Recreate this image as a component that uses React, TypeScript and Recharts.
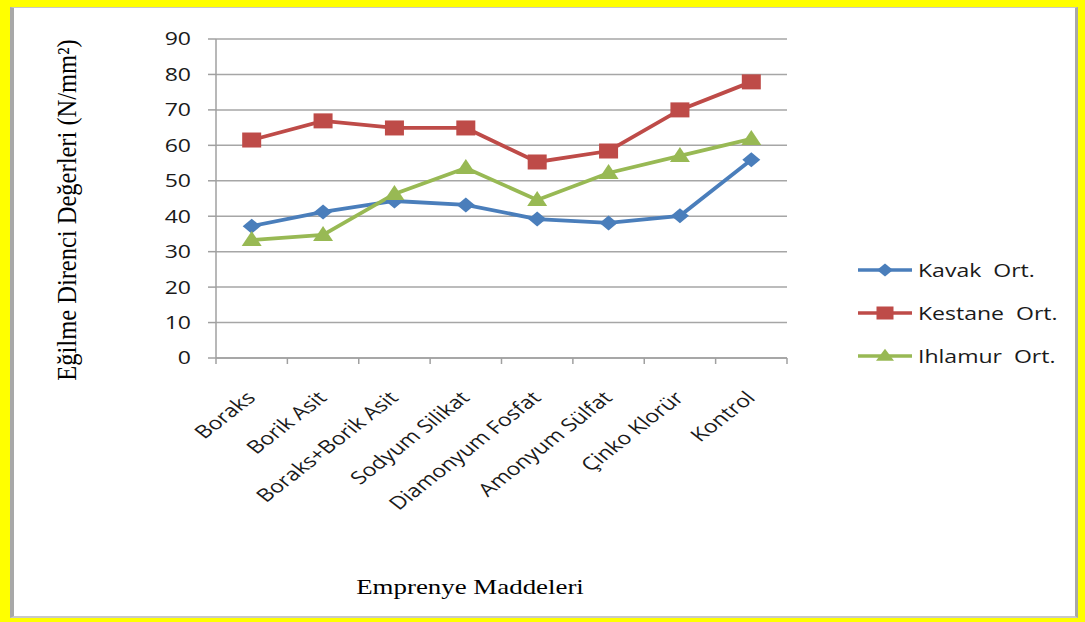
import React from 'react';
import { LineChart, Line, XAxis, YAxis, CartesianGrid } from 'recharts';

const categories = ['Boraks', 'Borik Asit', 'Boraks+Borik Asit', 'Sodyum Silikat', 'Diamonyum Fosfat', 'Amonyum Sülfat', 'Çinko Klorür', 'Kontrol'];
const kavak = [37.2, 41.2, 44.3, 43.2, 39.2, 38.1, 40.1, 55.9];
const kestane = [61.5, 66.9, 64.9, 64.9, 55.3, 58.4, 70.0, 77.9];
const ihlamur = [33.3, 34.7, 46.3, 53.6, 44.6, 52.2, 57.0, 61.8];
const yTicks = [0, 10, 20, 30, 40, 50, 60, 70, 80, 90];

const data = categories.map((c, i) => ({ name: c, kavak: kavak[i], kestane: kestane[i], ihlamur: ihlamur[i] }));

const BLUE = '#4a7ebb';
const RED = '#be4b48';
const GREEN = '#98b954';
const FONT = '"Open Sans", "Noto Sans", sans-serif';
const SERIF = '"Liberation Serif", "Times New Roman", serif';
const SX = 1.28;

const Diamond = (props: any) => {
  const { cx, cy, fill, rx = 9, ry = 7.5 } = props;
  if (cx == null || cy == null) return null;
  return <path d={`M${cx},${cy - ry}L${cx + rx},${cy}L${cx},${cy + ry}L${cx - rx},${cy}Z`} fill={fill} />;
};
const Square = (props: any) => {
  const { cx, cy, fill, w = 19, h = 15 } = props;
  if (cx == null || cy == null) return null;
  return <rect x={cx - w / 2} y={cy - h / 2} width={w} height={h} fill={fill} />;
};
const Triangle = (props: any) => {
  const { cx, cy, fill, w = 20, h = 15 } = props;
  if (cx == null || cy == null) return null;
  return <path d={`M${cx},${cy - h * 0.6}L${cx + w / 2},${cy + h * 0.4}L${cx - w / 2},${cy + h * 0.4}Z`} fill={fill} />;
};

const XTick = (props: any) => {
  const { x, y, payload, index, visibleTicksCount } = props;
  const half = payload && payload.offset ? payload.offset : 35.75;
  const tx = x + 5;
  const ty = y + 33;
  return (
    <g>
      <line x1={x - half} y1={y - 8} x2={x - half} y2={y - 2} stroke="#a0a0a0" strokeWidth={1.5} />
      {index === (visibleTicksCount ?? categories.length) - 1 && (
        <line x1={x + half} y1={y - 8} x2={x + half} y2={y - 2} stroke="#a0a0a0" strokeWidth={1.5} />
      )}
      <text x={0} y={0} textAnchor="end" fontFamily={FONT} fontSize={18} fill="#1a1a1a" transform={`translate(${tx}, ${ty}) scale(${SX}, 1) rotate(-45)`}>
        {payload.value}
      </text>
    </g>
  );
};

const YTick = (props: any) => {
  const { x, y, payload } = props;
  return (
    <text x={0} y={0} dy="0.36em" textAnchor="end" fontFamily={FONT} fontSize={18} fill="#1a1a1a" transform={`translate(${x}, ${y}) scale(${SX}, 1)`}>
      {payload.value}
    </text>
  );
};

const legendItems = [
  { label: 'Kavak  Ort.', color: BLUE, shape: 'diamond' },
  { label: 'Kestane  Ort.', color: RED, shape: 'square' },
  { label: 'Ihlamur  Ort.', color: GREEN, shape: 'triangle' },
];

const LegendBox = () => (
  <svg width={225} height={120} style={{ position: 'absolute', left: 855, top: 258 }}>
    {legendItems.map((it, i) => {
      const cy = 12 + i * 43;
      return (
        <g key={it.label}>
          <line x1={3} y1={cy} x2={57} y2={cy} stroke={it.color} strokeWidth={3.5} />
          {it.shape === 'diamond' && <Diamond cx={30} cy={cy} fill={it.color} rx={8} ry={6.5} />}
          {it.shape === 'square' && <Square cx={30} cy={cy} fill={it.color} w={17} h={13} />}
          {it.shape === 'triangle' && <Triangle cx={30} cy={cy} fill={it.color} w={18} h={12} />}
          <text x={0} y={0} fontFamily={FONT} fontSize={18} fill="#1a1a1a" style={{ whiteSpace: 'pre' }} transform={`translate(63, ${cy + 6.5}) scale(${SX}, 1)`}>
            {it.label}
          </text>
        </g>
      );
    })}
  </svg>
);

export default function App() {
  return (
    <div style={{ position: 'absolute', left: 0, top: 0, width: 1085, height: 622, background: '#ffff00', overflow: 'hidden' }}>
      <div
        style={{
          position: 'absolute',
          left: 10,
          top: 7,
          width: 1074 - 10 - 3,
          height: 617 - 7 - 2,
          background: '#fff',
          borderLeft: '4px solid #a8a8a8',
          borderRight: '3px solid #a8a8a8',
          borderTop: '1px solid #c8c8c8',
          borderBottom: '2px solid #c8c8c8',
          boxSizing: 'content-box',
        }}
      />
      <div style={{ position: 'absolute', left: 0, top: 0 }}>
        <LineChart width={1085} height={622} data={data} margin={{ top: 39, right: 298, bottom: 0, left: 0 }}>
          <CartesianGrid vertical={false} stroke="#a6a6a6" strokeWidth={1.5} />
          <XAxis
            dataKey="name"
            scale="band"
            height={264}
            interval={0}
            tickLine={false}
            axisLine={{ stroke: '#a0a0a0', strokeWidth: 1.5 }}
            tick={<XTick />}
          />
          <YAxis
            width={216}
            domain={[0, 90]}
            ticks={yTicks}
            interval={0}
            tickSize={8}
            tickLine={{ stroke: '#a0a0a0', strokeWidth: 1.5 }}
            axisLine={{ stroke: '#a0a0a0', strokeWidth: 1.5 }}
            tick={<YTick />}
            tickMargin={17}
          />
          <Line type="linear" dataKey="kavak" name="Kavak Ort." stroke={BLUE} strokeWidth={3.8} dot={<Diamond fill={BLUE} />} activeDot={false} isAnimationActive={false} />
          <Line type="linear" dataKey="kestane" name="Kestane Ort." stroke={RED} strokeWidth={3.8} dot={<Square fill={RED} />} activeDot={false} isAnimationActive={false} />
          <Line type="linear" dataKey="ihlamur" name="Ihlamur Ort." stroke={GREEN} strokeWidth={3.8} dot={<Triangle fill={GREEN} />} activeDot={false} isAnimationActive={false} />
        </LineChart>
      </div>
      <LegendBox />
      <div
        style={{
          position: 'absolute',
          left: 68,
          top: 210,
          transform: 'translate(-50%, -50%) scale(1.08, 1) rotate(-90deg)',
          whiteSpace: 'nowrap',
          fontFamily: SERIF,
          fontSize: 24.5,
          lineHeight: 1,
          color: '#000',
        }}
      >
        Eğilme Direnci Değerleri (N/mm²)
      </div>
      <div
        style={{
          position: 'absolute',
          left: 470,
          top: 587,
          transform: `translate(-50%, -50%) scale(${SX}, 1)`,
          whiteSpace: 'nowrap',
          fontFamily: SERIF,
          fontSize: 21,
          lineHeight: 1,
          color: '#000',
        }}
      >
        Emprenye Maddeleri
      </div>
    </div>
  );
}
